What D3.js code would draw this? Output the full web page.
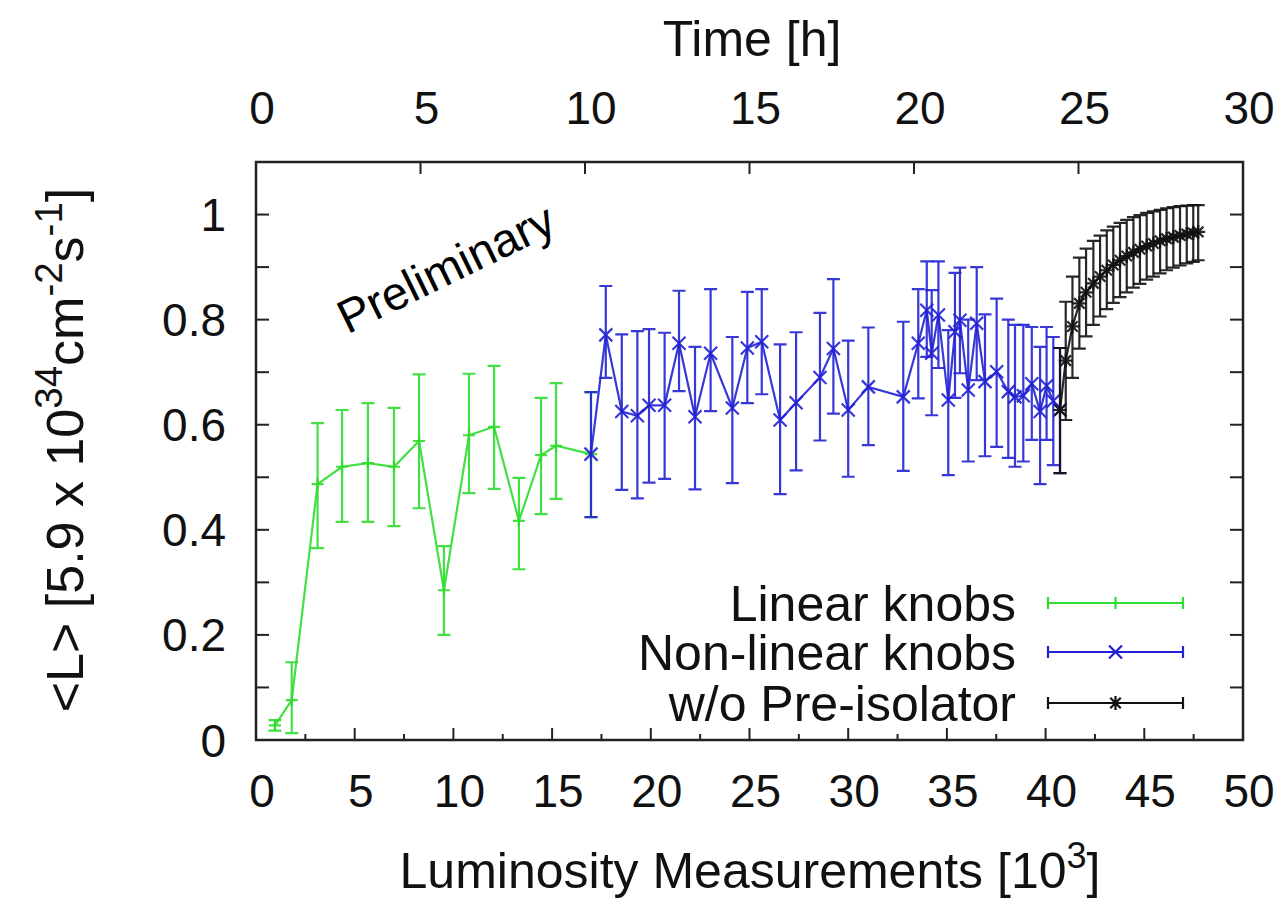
<!DOCTYPE html>
<html>
<head>
<meta charset="utf-8">
<script src="https://cdn.jsdelivr.net/npm/d3@7"></script>
<style>
  html, body { margin: 0; padding: 0; background: #fff; }
  svg { display: block; font-family: "Liberation Sans", Arial, sans-serif; }
</style>
</head>
<body>
<svg id="chart" width="1282" height="900"></svg>
<script>
// Linear knobs (x in 10^3 measurements, <L> with lower/upper error)
const linearX  = [0.96, 1.81, 3.12, 4.36, 5.67, 6.99, 8.26, 9.52, 10.79, 12.06, 13.32, 14.44, 15.20, 16.97];
const linearY  = [0.028, 0.076, 0.487, 0.520, 0.527, 0.520, 0.569, 0.285, 0.580, 0.596, 0.417, 0.542, 0.560, 0.544];
const linearLo = [0.018, 0.013, 0.365, 0.415, 0.415, 0.407, 0.441, 0.200, 0.470, 0.478, 0.325, 0.430, 0.459, 0.424];
const linearHi = [0.038, 0.148, 0.603, 0.628, 0.641, 0.632, 0.696, 0.369, 0.697, 0.712, 0.499, 0.651, 0.679, 0.662];

// Non-linear knobs
const nonlinX  = [16.97, 17.72, 18.53, 19.32, 19.91, 20.70, 21.43, 22.24, 23.03, 24.13, 24.89, 25.62, 26.55, 27.36,
                  28.57, 29.25, 30.00, 31.02, 32.79, 33.55, 33.98, 34.23, 34.57, 35.07, 35.41, 35.66, 36.08, 36.51,
                  36.93, 37.52, 38.11, 38.45, 38.87, 39.30, 39.72, 40.05, 40.39, 40.73];
const nonlinY  = [0.544, 0.771, 0.625, 0.617, 0.637, 0.637, 0.755, 0.615, 0.736, 0.632, 0.746, 0.758, 0.609, 0.642,
                  0.690, 0.745, 0.628, 0.672, 0.653, 0.755, 0.818, 0.736, 0.809, 0.647, 0.777, 0.799, 0.666, 0.793,
                  0.682, 0.701, 0.663, 0.653, 0.655, 0.678, 0.625, 0.674, 0.645, 0.628];
const nonlinLo = [0.424, 0.689, 0.476, 0.460, 0.490, 0.497, 0.664, 0.477, 0.626, 0.489, 0.641, 0.658, 0.468, 0.513,
                  0.570, 0.621, 0.501, 0.561, 0.512, 0.650, 0.729, 0.618, 0.708, 0.504, 0.651, 0.698, 0.530, 0.685,
                  0.540, 0.558, 0.537, 0.520, 0.530, 0.571, 0.487, 0.571, 0.523, 0.508];
const nonlinHi = [0.662, 0.864, 0.772, 0.778, 0.782, 0.775, 0.855, 0.748, 0.858, 0.767, 0.853, 0.858, 0.753, 0.776,
                  0.813, 0.877, 0.760, 0.785, 0.796, 0.858, 0.911, 0.856, 0.911, 0.780, 0.889, 0.899, 0.800, 0.900,
                  0.810, 0.840, 0.800, 0.790, 0.790, 0.786, 0.748, 0.786, 0.767, 0.746];

// w/o Pre-isolator
const noIsoX  = [40.73, 41.02, 41.36, 41.71, 42.05, 42.42, 42.76, 43.10, 43.43, 43.77, 44.11, 44.45, 44.78, 45.12,
                 45.46, 45.80, 46.13, 46.47, 46.81, 47.15, 47.48, 47.73];
const noIsoY  = [0.628, 0.722, 0.787, 0.831, 0.852, 0.869, 0.882, 0.894, 0.904, 0.913, 0.921, 0.928, 0.934, 0.940,
                 0.945, 0.950, 0.954, 0.957, 0.960, 0.963, 0.965, 0.967];
const noIsoLo = [0.508, 0.609, 0.689, 0.745, 0.768, 0.790, 0.806, 0.820, 0.832, 0.843, 0.852, 0.861, 0.868, 0.876,
                 0.882, 0.888, 0.894, 0.899, 0.903, 0.907, 0.910, 0.913];
const noIsoHi = [0.746, 0.834, 0.882, 0.918, 0.935, 0.950, 0.960, 0.970, 0.977, 0.984, 0.990, 0.995, 0.999, 1.003,
                 1.006, 1.009, 1.012, 1.014, 1.016, 1.017, 1.018, 1.018];

const xTicks    = [0, 5, 10, 15, 20, 25, 30, 35, 40, 45, 50];
const xMinor    = [2.5, 7.5, 12.5, 17.5, 22.5, 27.5, 32.5, 37.5, 42.5, 47.5];
const timeTicks = [0, 5, 10, 15, 20, 25, 30];
const yTicks    = [0, 0.2, 0.4, 0.6, 0.8, 1];
const yMinor    = [0.1, 0.3, 0.5, 0.7, 0.9];

const seriesNames = ["Linear knobs", "Non-linear knobs", "w/o Pre-isolator"];

const margin = { left: 256, right: 1243, top: 162, bottom: 740 };

const svg = d3.select("#chart");
const x = d3.scaleLinear().domain([0, 50]).range([margin.left, margin.right]);
const xt = d3.scaleLinear().domain([0, 30]).range([margin.left, margin.right]);
const y = d3.scaleLinear().domain([0, 1.1]).range([margin.bottom, margin.top]);

const axisColor = "#222";
const tickFont = 46;
const labelFont = 50;
const labelShift = 6;   // horizontal tick labels sit slightly right of their ticks

// Ticks (all pointing into the frame)
const gTicks = svg.append("g").attr("stroke", axisColor).attr("stroke-width", 2);
xTicks.forEach(v => gTicks.append("line").attr("x1", x(v)).attr("x2", x(v))
  .attr("y1", margin.bottom).attr("y2", margin.bottom - 12));
xMinor.forEach(v => gTicks.append("line").attr("x1", x(v)).attr("x2", x(v))
  .attr("y1", margin.bottom).attr("y2", margin.bottom - 6));
timeTicks.forEach(v => gTicks.append("line").attr("x1", xt(v)).attr("x2", xt(v))
  .attr("y1", margin.top).attr("y2", margin.top + 12));
yTicks.concat(yMinor).forEach(v => {
  gTicks.append("line").attr("x1", margin.left).attr("x2", margin.left + 13)
    .attr("y1", y(v)).attr("y2", y(v));
  gTicks.append("line").attr("x1", margin.right).attr("x2", margin.right - 13)
    .attr("y1", y(v)).attr("y2", y(v));
});

// Frame
svg.append("rect")
  .attr("x", margin.left).attr("y", margin.top)
  .attr("width", margin.right - margin.left).attr("height", margin.bottom - margin.top)
  .attr("fill", "none").attr("stroke", axisColor).attr("stroke-width", 2.5);

// Tick labels
const gLab = svg.append("g").attr("fill", "#111").attr("font-size", tickFont);
xTicks.forEach(v => gLab.append("text").attr("x", x(v) + labelShift).attr("y", 807)
  .attr("text-anchor", "middle").text(v));
timeTicks.forEach(v => gLab.append("text").attr("x", xt(v) + labelShift).attr("y", 124)
  .attr("text-anchor", "middle").text(v));
yTicks.forEach(v => gLab.append("text").attr("x", 226).attr("y", y(v)).attr("dy", "0.36em")
  .attr("text-anchor", "end").text(v));

// Axis titles
svg.append("text").attr("x", 752).attr("y", 56).attr("text-anchor", "middle")
  .attr("font-size", labelFont).attr("fill", "#111").text("Time [h]");

const xTitle = svg.append("text").attr("x", 750).attr("y", 888).attr("text-anchor", "middle")
  .attr("font-size", labelFont).attr("fill", "#111");
xTitle.append("tspan").text("Luminosity Measurements [10");
xTitle.append("tspan").attr("font-size", labelFont * 0.72).attr("dy", -20).text("3");
xTitle.append("tspan").attr("dy", 20).text("]");

const yFont = 52;
const yTitle = svg.append("text").attr("transform", "translate(83,450) rotate(-90)")
  .attr("text-anchor", "middle").attr("font-size", yFont).attr("fill", "#111");
yTitle.append("tspan").text("<L> [5.9 x 10");
yTitle.append("tspan").attr("font-size", yFont * 0.74).attr("dy", -21).text("34");
yTitle.append("tspan").attr("dy", 21).text("cm");
yTitle.append("tspan").attr("font-size", yFont * 0.74).attr("dy", -21).text("-2");
yTitle.append("tspan").attr("dy", 21).text("s");
yTitle.append("tspan").attr("font-size", yFont * 0.74).attr("dy", -21).text("-1");
yTitle.append("tspan").attr("dy", 21).text("]");

// Annotation inside the plot
svg.append("text").attr("transform", "translate(453,283) rotate(-26)")
  .attr("text-anchor", "middle").attr("font-size", 47).attr("fill", "#000").text("Preliminary");

// Marker glyph paths centred on (0,0)
const markers = {
  plus:  s => `M${-s},0H${s}M0,${-s}V${s}`,
  cross: s => `M${-s},${-s}L${s},${s}M${-s},${s}L${s},${-s}`,
  star:  s => `M${-s},0H${s}M0,${-s}V${s}M${-s*0.75},${-s*0.75}L${s*0.75},${s*0.75}M${-s*0.75},${s*0.75}L${s*0.75},${-s*0.75}`
};

const series = [
  { name: seriesNames[0], xs: linearX, ys: linearY, lo: linearLo, hi: linearHi, color: "#30dc30", marker: "plus",  ms: 6 },
  { name: seriesNames[1], xs: nonlinX, ys: nonlinY, lo: nonlinLo, hi: nonlinHi, color: "#2222d4", marker: "cross", ms: 6.5 },
  { name: seriesNames[2], xs: noIsoX,  ys: noIsoY,  lo: noIsoLo,  hi: noIsoHi,  color: "#111111", marker: "star",  ms: 7 }
];

const capHalf = 6.5;
const plot = svg.append("g");

series.forEach(s => {
  const pts = s.xs.map((v, i) => ({ x: v, y: s.ys[i], lo: s.lo[i], hi: s.hi[i] }));
  const g = plot.append("g").attr("stroke", s.color).attr("fill", "none").attr("stroke-opacity", 0.9);

  // error bars with caps
  pts.forEach(p => {
    const cx = x(p.x);
    g.append("path").attr("stroke-width", 2.2)
      .attr("d", `M${cx},${y(p.lo)}V${y(p.hi)}M${cx - capHalf},${y(p.lo)}H${cx + capHalf}M${cx - capHalf},${y(p.hi)}H${cx + capHalf}`);
  });

  // connecting line
  g.append("path").datum(pts).attr("stroke-width", 2.2)
    .attr("d", d3.line().x(d => x(d.x)).y(d => y(d.y)));

  // point markers
  pts.forEach(p => {
    g.append("path").attr("stroke-width", 2.2)
      .attr("transform", `translate(${x(p.x)},${y(p.y)})`)
      .attr("d", markers[s.marker](s.ms));
  });
});

// Legend
const legendRows = [603, 652, 703];
const legX1 = 1048, legX2 = 1183, legTextX = 1016;
series.forEach((s, i) => {
  const ly = legendRows[i];
  svg.append("text").attr("x", legTextX).attr("y", ly).attr("dy", "0.35em")
    .attr("text-anchor", "end").attr("font-size", labelFont).attr("fill", "#111").text(s.name);
  const g = svg.append("g").attr("stroke", s.color).attr("stroke-width", 2.2).attr("fill", "none");
  g.append("path").attr("d", `M${legX1},${ly}H${legX2}M${legX1},${ly - 6}V${ly + 6}M${legX2},${ly - 6}V${ly + 6}`);
  g.append("path").attr("transform", `translate(${(legX1 + legX2) / 2},${ly})`).attr("d", markers[s.marker](s.ms));
});
</script>
</body>
</html>
